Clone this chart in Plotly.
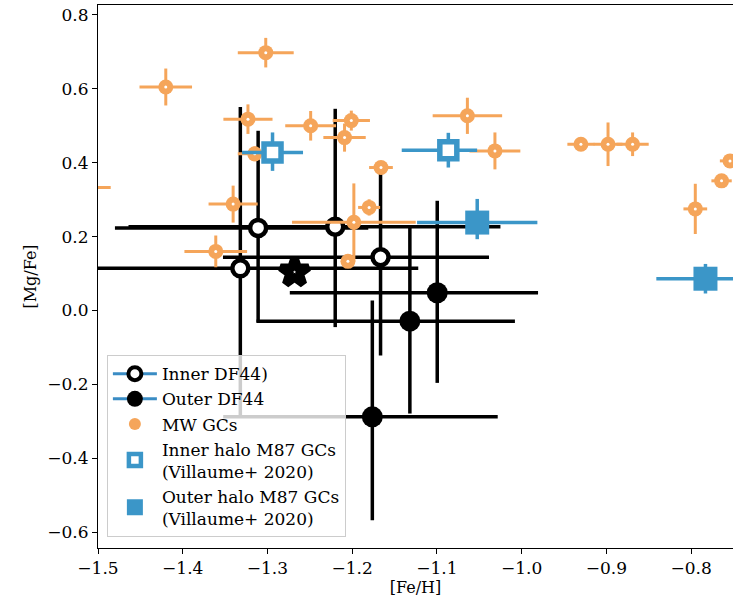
import plotly.graph_objects as go

# ---------------- data ----------------
# DF44 inner (open circles)
inner_x = [-1.311, -1.220, -1.332, -1.1665]
inner_y = [0.2235, 0.227, 0.114, 0.144]
inner_xerr_minus = [0.169, 0.244, 0.27, 0.186]
inner_xerr_plus = [0.13, 0.195, 0.21, 0.128]
inner_yerr_plus = [0.263, 0.319, 0.437, 0.242]
inner_yerr_minus = [0.256, 0.272, 0.401, 0.266]

# DF44 outer (filled circles)
outer_x = [-1.1319, -1.0996, -1.1762]
outer_y = [-0.029, 0.048, -0.288]
outer_xerr_minus = [0.181, 0.174, 0.176]
outer_xerr_plus = [0.124, 0.119, 0.148]
outer_yerr_plus = [0.254, 0.249, 0.315]
outer_yerr_minus = [0.25, 0.244, 0.28]

# DF44 mean (star)
star_x = [-1.268]
star_y = [0.104]

# Milky Way GCs
mw_x = [-1.420, -1.302, -1.323, -1.249, -1.201, -1.209, -1.064, -1.0315, -0.930, -0.898,
        -0.869, -0.754, -0.764, -0.795, -1.166, -1.180, -1.198, -1.205, -1.3405, -1.361,
        -1.53, -1.315]
mw_y = [0.605, 0.698, 0.518, 0.500, 0.514, 0.468, 0.527, 0.432, 0.450, 0.450,
        0.450, 0.405, 0.351, 0.275, 0.387, 0.279, 0.239, 0.133, 0.288, 0.160,
        0.333, 0.424]
mw_xerr = [0.031, 0.033, 0.029, 0.030, 0.022, 0.025, 0.041, 0.030, 0.016, 0.017,
           0.019, 0.012, 0.012, 0.014, 0.014, 0.013, 0.073, 0.008, 0.029, 0.037,
           0.045, 0.020]
mw_yerr = [0.050, 0.040, 0.040, 0.040, 0.027, 0.038, 0.049, 0.050, 0.012, 0.059,
           0.032, 0.010, 0.010, 0.068, 0.016, 0.022, 0.105, 0.015, 0.050, 0.043,
           0.020, 0.020]

# M87 GCs (Villaume+ 2020)
m87_in_x = [-1.294, -1.0865]
m87_in_y = [0.428, 0.434]
m87_in_xerr_minus = [0.036, 0.055]
m87_in_xerr_plus = [0.036, 0.034]
m87_in_yerr_plus = [0.054, 0.047]
m87_in_yerr_minus = [0.050, 0.047]

m87_out_x = [-1.0524, -0.783]
m87_out_y = [0.238, 0.086]
m87_out_xerr = [0.071, 0.058]
m87_out_yerr_plus = [0.064, 0.040]
m87_out_yerr_minus = [0.045, 0.040]

x_ticks = [-1.5, -1.4, -1.3, -1.2, -1.1, -1.0, -0.9, -0.8]
y_ticks = [-0.6, -0.4, -0.2, 0.0, 0.2, 0.4, 0.6, 0.8]

labels = ["Inner DF44)", "Outer DF44", "MW GCs",
          "Inner halo M87 GCs<br>(Villaume+ 2020)",
          "Outer halo M87 GCs<br>(Villaume+ 2020)"]

# ---------------- style ----------------
ORANGE = "#f5a55a"
BLUE = "#3b96c8"
LEGBLUE = "#3a8cc4"
FONT = "DejaVu Serif"

fig = go.Figure()

# inner DF44
fig.add_trace(go.Scatter(
    x=inner_x, y=inner_y, mode="markers", showlegend=False,
    marker=dict(symbol="circle", size=16, color="white", line=dict(color="black", width=4.5)),
    error_x=dict(type="data", symmetric=False, array=inner_xerr_plus, arrayminus=inner_xerr_minus,
                 color="black", thickness=3.5, width=0),
    error_y=dict(type="data", symmetric=False, array=inner_yerr_plus, arrayminus=inner_yerr_minus,
                 color="black", thickness=3.5, width=0),
))
# outer DF44
fig.add_trace(go.Scatter(
    x=outer_x, y=outer_y, mode="markers", showlegend=False,
    marker=dict(symbol="circle", size=21, color="black", line=dict(width=0)),
    error_x=dict(type="data", symmetric=False, array=outer_xerr_plus, arrayminus=outer_xerr_minus,
                 color="black", thickness=3.5, width=0),
    error_y=dict(type="data", symmetric=False, array=outer_yerr_plus, arrayminus=outer_yerr_minus,
                 color="black", thickness=3.5, width=0),
))
# MW GCs
fig.add_trace(go.Scatter(
    x=mw_x, y=mw_y, mode="markers", showlegend=False,
    marker=dict(symbol="circle", size=15, color=ORANGE, line=dict(width=0)),
    error_x=dict(type="data", array=mw_xerr, color=ORANGE, thickness=3, width=0),
    error_y=dict(type="data", array=mw_yerr, color=ORANGE, thickness=3, width=0),
))
fig.add_trace(go.Scatter(
    x=mw_x, y=mw_y, mode="markers", showlegend=False, hoverinfo="skip",
    marker=dict(symbol="circle", size=3, color="white", line=dict(width=0)),
))
# M87 inner halo
fig.add_trace(go.Scatter(
    x=m87_in_x, y=m87_in_y, mode="markers", showlegend=False,
    marker=dict(symbol="square", size=17, color="white", line=dict(color=BLUE, width=5.5)),
    error_x=dict(type="data", symmetric=False, array=m87_in_xerr_plus, arrayminus=m87_in_xerr_minus,
                 color=BLUE, thickness=3.5, width=0),
    error_y=dict(type="data", symmetric=False, array=m87_in_yerr_plus, arrayminus=m87_in_yerr_minus,
                 color=BLUE, thickness=3.5, width=0),
))
# M87 outer halo
fig.add_trace(go.Scatter(
    x=m87_out_x, y=m87_out_y, mode="markers", showlegend=False,
    marker=dict(symbol="square", size=24, color=BLUE, line=dict(width=0)),
    error_x=dict(type="data", array=m87_out_xerr, color=BLUE, thickness=3.5, width=0),
    error_y=dict(type="data", symmetric=False, array=m87_out_yerr_plus, arrayminus=m87_out_yerr_minus,
                 color=BLUE, thickness=3.5, width=0),
))
# star
fig.add_trace(go.Scatter(
    x=star_x, y=star_y, mode="markers", showlegend=False,
    marker=dict(symbol="star", size=21, color="white", line=dict(color="black", width=8)),
))

# legend entries
fig.add_trace(go.Scatter(x=[None], y=[None], mode="lines+markers", name=labels[0],
                         line=dict(color=LEGBLUE, width=3),
                         marker=dict(symbol="circle", size=13, color="white",
                                     line=dict(color="black", width=4))))
fig.add_trace(go.Scatter(x=[None], y=[None], mode="lines+markers", name=labels[1],
                         line=dict(color=LEGBLUE, width=3),
                         marker=dict(symbol="circle", size=16, color="black", line=dict(width=0))))
fig.add_trace(go.Scatter(x=[None], y=[None], mode="markers", name=labels[2],
                         marker=dict(symbol="circle", size=12, color=ORANGE, line=dict(width=0))))
fig.add_trace(go.Scatter(x=[None], y=[None], mode="markers", name=labels[3],
                         marker=dict(symbol="square", size=12, color="white",
                                     line=dict(color=BLUE, width=4.5))))
fig.add_trace(go.Scatter(x=[None], y=[None], mode="markers", name=labels[4],
                         marker=dict(symbol="square", size=16, color=BLUE, line=dict(width=0))))

fig.update_layout(
    width=733, height=598,
    margin=dict(l=98, r=0, t=5, b=50),
    plot_bgcolor="white", paper_bgcolor="white",
    font=dict(family=FONT, size=17, color="black"),
    legend=dict(x=0.014, y=0.02, xanchor="left", yanchor="bottom",
                bgcolor="rgba(255,255,255,0.8)", bordercolor="#cccccc", borderwidth=1,
                font=dict(family=FONT, size=17, color="black"),
                itemsizing="trace", itemwidth=44),
    xaxis=dict(range=[-1.5, -0.7505], tickvals=x_ticks, tickformat=".1f", automargin=False,
               showgrid=False, zeroline=False, showline=True, linecolor="black", linewidth=1,
               mirror=True, ticks="outside", ticklen=5, tickcolor="black",
               tickfont=dict(family=FONT, size=17),
               title=dict(text="[Fe/H]", font=dict(family=FONT, size=16), standoff=1)),
    yaxis=dict(range=[-0.643, 0.827], tickvals=y_ticks, tickformat=".1f", automargin=False,
               showgrid=False, zeroline=False, showline=True, linecolor="black", linewidth=1,
               ticks="outside", ticklen=5, tickcolor="black",
               tickfont=dict(family=FONT, size=17),
               title=dict(text="[Mg/Fe]", font=dict(family=FONT, size=16), standoff=6)),
)

fig.write_html("out.html", config={"displayModeBar": False},
               post_script="document.body.style.margin='0';document.body.style.overflow='hidden';")
